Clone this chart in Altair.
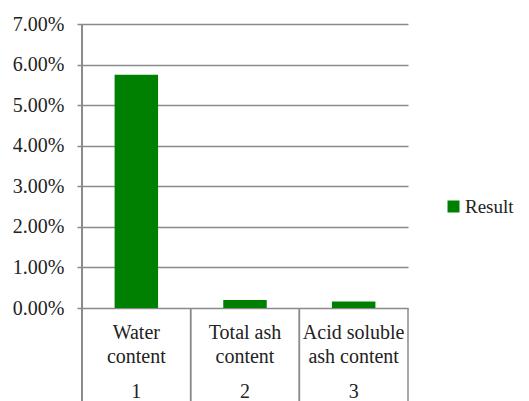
import altair as alt
import pandas as pd

categories = ["Water content", "Total ash content", "Acid soluble ash content"]
line1 = ["Water", "Total ash", "Acid soluble"]
line2 = ["content", "content", "ash content"]
numbers = ["1", "2", "3"]
values = [0.0575, 0.0020, 0.0016]
series = "Result"

df = pd.DataFrame({
    "cat": categories,
    "l1": line1,
    "l2": line2,
    "num": numbers,
    "value": values,
    "series": [series] * len(categories),
})

FONT = "Liberation Serif"
GRAY = "#8a8a8a"
W, H = 326, 284

xscale = alt.Scale(domain=categories, paddingInner=0, paddingOuter=0)
base = alt.Chart(df)

bars = base.mark_bar(width={"band": 0.4}).encode(
    x=alt.X("cat:N", sort=categories, scale=xscale, axis=None),
    y=alt.Y(
        "value:Q",
        scale=alt.Scale(domain=[0, 0.07], nice=False),
        axis=alt.Axis(
            format=".2%", values=[0, 0.01, 0.02, 0.03, 0.04, 0.05, 0.06, 0.07],
            title=None, grid=True, gridColor=GRAY, gridWidth=1.5,
            domain=False, ticks=True, tickColor=GRAY, tickWidth=1.5, tickSize=5,
            labelFont=FONT, labelFontSize=20, labelColor="#222222", labelPadding=13,
        ),
    ),
    color=alt.Color(
        "series:N",
        scale=alt.Scale(domain=[series], range=["#008000"]),
        legend=alt.Legend(
            title=None, orient="none", legendX=362, legendY=173, padding=0,
            symbolType="square", symbolSize=144, symbolStrokeWidth=0,
            labelFont=FONT, labelFontSize=19, labelColor="#222222",
            labelOffset=2,
        ),
    ),
)

yaxis_line = base.mark_rule(color=GRAY, strokeWidth=1.5).encode(
    x=alt.value(0), y=alt.value(0), y2=alt.value(380)
)

seps_left = base.mark_rule(color=GRAY, strokeWidth=1.5).encode(
    x=alt.X("cat:N", sort=categories, scale=xscale, bandPosition=0, axis=None),
    y=alt.value(H), y2=alt.value(380),
)
seps_right = base.mark_rule(color=GRAY, strokeWidth=1.5).encode(
    x=alt.X("cat:N", sort=categories, scale=xscale, bandPosition=1, axis=None),
    y=alt.value(H), y2=alt.value(380),
)

def label_layer(field, ypix):
    return base.mark_text(font=FONT, fontSize=20, color="#222222", baseline="middle").encode(
        x=alt.X("cat:N", sort=categories, scale=xscale, axis=None),
        y=alt.value(ypix),
        text=f"{field}:N",
    )

t1 = label_layer("l1", 309)
t2 = label_layer("l2", 333)
t3 = label_layer("num", 368)

chart = alt.layer(bars, yaxis_line, seps_left, seps_right, t1, t2, t3).properties(
    width=W, height=H, autosize=alt.AutoSizeParams(type="none"),
    padding={"left": 74, "top": 16, "right": 113, "bottom": 93},
    background="white",
).configure(font=FONT).configure_view(stroke=None, strokeWidth=0)

chart.save("out.html", embed_options={"renderer": "svg", "actions": False})
